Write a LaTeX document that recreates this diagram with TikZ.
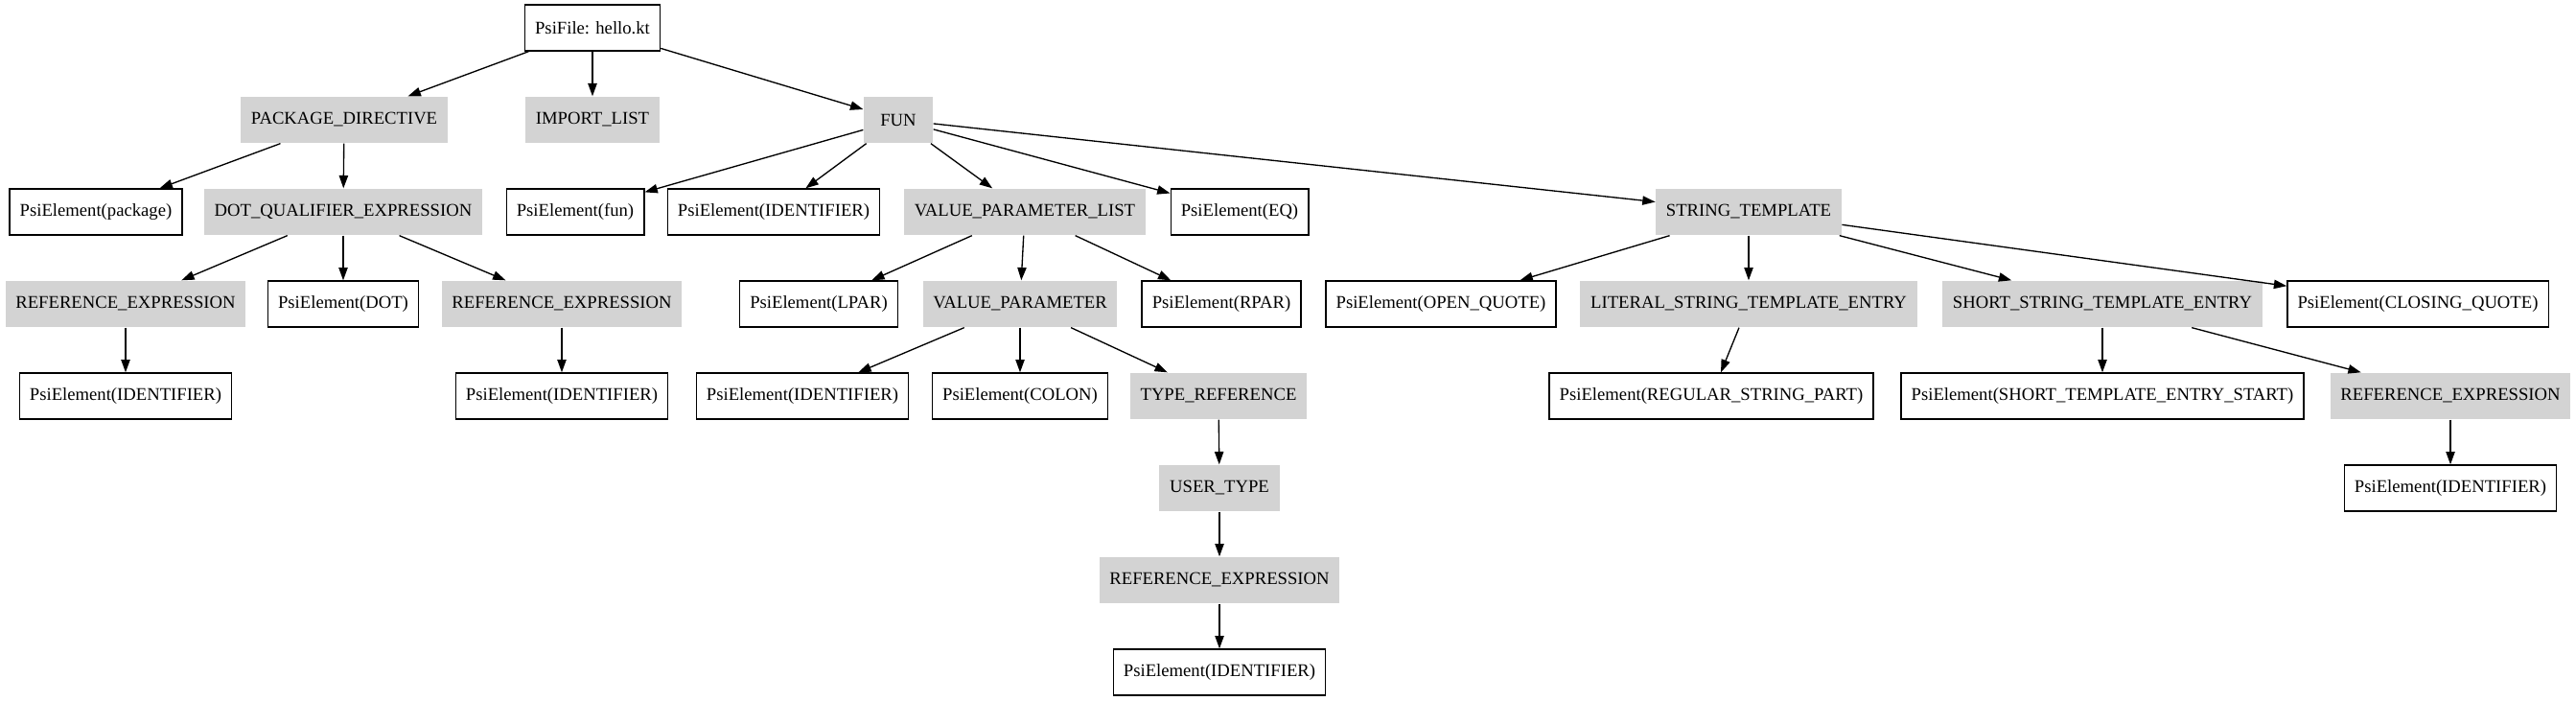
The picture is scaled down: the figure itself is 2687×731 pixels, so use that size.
\documentclass[tikz,border=0pt]{standalone}
\usepackage{fontspec}
\setmainfont{Liberation Serif}
\usetikzlibrary{arrows.meta}
\definecolor{nodegray}{HTML}{D3D3D3}

\begin{document}
\begin{tikzpicture}[x=0.75pt, y=-0.75pt,
    leafbox/.style={draw, line width=1pt, font=\fontsize{14}{16}\selectfont,
      inner xsep=8pt, minimum width=54pt, minimum height=36pt},
    treebox/.style={leafbox, draw=none, fill=nodegray},
    edge/.style={-{Triangle[length=10pt,width=7pt]}, line width=1pt}]
    \useasboundingbox (0,0) rectangle (2687,731);

    % draw nodes, level 1 and 2
    \node[leafbox] (root) at (618,29) {PsiFile: hello.kt};
    \node[treebox] (pkg) at (359,125) {PACKAGE\_DIRECTIVE};
    \node[treebox] (imp) at (618,125) {IMPORT\_LIST};
    \node[treebox] (fun) at (937,125) {FUN};

    % draw nodes, level 3
    \node[leafbox] (pkgkw) at (100,221) {PsiElement(package)};
    \node[treebox] (dqe) at (358,221) {DOT\_QUALIFIER\_EXPRESSION};
    \node[leafbox] (funkw) at (600,221) {PsiElement(fun)};
    \node[leafbox] (funid) at (807,221) {PsiElement(IDENTIFIER)};
    \node[treebox] (vpl) at (1069,221) {VALUE\_PARAMETER\_LIST};
    \node[leafbox] (eq) at (1293,221) {PsiElement(EQ)};
    \node[treebox] (st) at (1824,221) {STRING\_TEMPLATE};

    % draw nodes, level 4
    \node[treebox] (refa) at (131,317) {REFERENCE\_EXPRESSION};
    \node[leafbox] (dot) at (358,317) {PsiElement(DOT)};
    \node[treebox] (refb) at (586,317) {REFERENCE\_EXPRESSION};
    \node[leafbox] (lpar) at (854,317) {PsiElement(LPAR)};
    \node[treebox] (vp) at (1064,317) {VALUE\_PARAMETER};
    \node[leafbox] (rpar) at (1274,317) {PsiElement(RPAR)};
    \node[leafbox] (oq) at (1503,317) {PsiElement(OPEN\_QUOTE)};
    \node[treebox] (lste) at (1824,317) {LITERAL\_STRING\_TEMPLATE\_ENTRY};
    \node[treebox] (sste) at (2193,317) {SHORT\_STRING\_TEMPLATE\_ENTRY};
    \node[leafbox] (cq) at (2522,317) {PsiElement(CLOSING\_QUOTE)};

    % draw nodes, level 5
    \node[leafbox] (ida) at (131,413) {PsiElement(IDENTIFIER)};
    \node[leafbox] (idb) at (586,413) {PsiElement(IDENTIFIER)};
    \node[leafbox] (vpid) at (837,413) {PsiElement(IDENTIFIER)};
    \node[leafbox] (colon) at (1064,413) {PsiElement(COLON)};
    \node[treebox] (tref) at (1271,413) {TYPE\_REFERENCE};
    \node[leafbox] (rsp) at (1785,413) {PsiElement(REGULAR\_STRING\_PART)};
    \node[leafbox] (stes) at (2193,413) {PsiElement(SHORT\_TEMPLATE\_ENTRY\_START)};
    \node[treebox] (refc) at (2556,413) {REFERENCE\_EXPRESSION};

    % draw nodes, level 6 to 8
    \node[treebox] (utype) at (1272,509) {USER\_TYPE};
    \node[leafbox] (idc) at (2556,509) {PsiElement(IDENTIFIER)};
    \node[treebox] (refd) at (1272,605) {REFERENCE\_EXPRESSION};
    \node[leafbox] (idd) at (1272,701) {PsiElement(IDENTIFIER)};

    % draw edges
    \foreach \a/\b in {root/pkg, root/imp, root/fun,
        pkg/pkgkw, pkg/dqe, dqe/refa, dqe/dot, dqe/refb, refa/ida, refb/idb,
        fun/funkw, fun/funid, fun/vpl, fun/eq, fun/st,
        vpl/lpar, vpl/vp, vpl/rpar, vp/vpid, vp/colon, vp/tref,
        tref/utype, utype/refd, refd/idd,
        st/oq, st/lste, st/sste, st/cq, lste/rsp,
        sste/stes, sste/refc, refc/idc}
      \draw[edge] (\a) -- (\b);
\end{tikzpicture}
\end{document}
